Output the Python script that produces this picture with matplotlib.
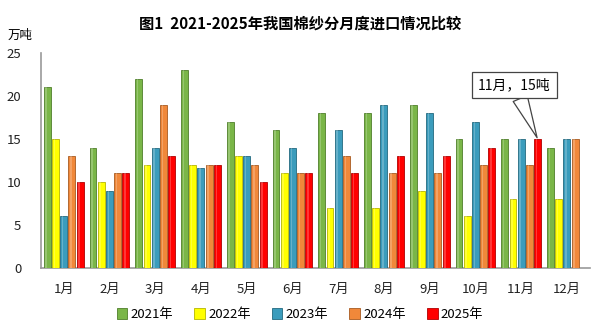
import numpy as np
import matplotlib.pyplot as plt

plt.rcParams['font.family'] = ['Noto Sans CJK SC', 'DejaVu Sans']

months = ['1月', '2月', '3月', '4月', '5月', '6月', '7月', '8月', '9月', '10月', '11月', '12月']
years = ['2021年', '2022年', '2023年', '2024年', '2025年']
y2021 = [21, 14, 22, 23, 17, 16, 18, 18, 19, 15, 15, 14]
y2022 = [15, 10, 12, 12, 13, 11, 7, 7, 9, 6, 8, 8]
y2023 = [6, 9, 14, 11.6, 13, 14, 16, 19, 18, 17, 15, 15]
y2024 = [13, 11, 19, 12, 12, 11, 13, 11, 11, 12, 12, 15]
y2025 = [10, 11, 13, 12, 10, 11, 11, 13, 13, 14, 15, np.nan]

colors = ['#7ab648', '#ffff00', '#3b9cbc', '#f0883a', '#ff0000']
edges = ['#4f7f2a', '#b5b500', '#23697f', '#a85a20', '#b00000']

fig = plt.figure(figsize=(6, 3.33), dpi=100)
ax = fig.add_axes([0.068, 0.195, 0.915, 0.646])

x = np.arange(len(months))
step = 0.18
w = 0.15
series = [y2021, y2022, y2023, y2024, y2025]
for k, vals in enumerate(series):
    pos = x + (k - 2) * step
    ax.bar(pos, vals, w, color=colors[k], edgecolor=edges[k], linewidth=0.6,
           label=years[k], zorder=3)
    # light stripe down each bar for a rounded look
    ax.bar(pos - w * 0.15, vals, w * 0.22, color='white', alpha=0.22,
           linewidth=0, zorder=4)

ax.set_xlim(-0.5, 11.5)
ax.set_ylim(0, 25)
ax.set_yticks(range(0, 26, 5))
ax.set_xticks(x)
ax.set_xticklabels(months)
ax.tick_params(axis='both', length=0, labelsize=9.5, colors='#222222')
ax.tick_params(axis='x', pad=11)
ax.tick_params(axis='y', pad=14)
for s in ['top', 'right']:
    ax.spines[s].set_visible(False)
for s in ['left', 'bottom']:
    ax.spines[s].set_color('#999999')
    ax.spines[s].set_linewidth(1.2)

fig.text(0.5, 0.93, '图1  2021-2025年我国棉纱分月度进口情况比较',
         ha='center', va='center', fontsize=11, fontweight='bold')
fig.text(0.012, 0.895, '万吨', ha='left', va='center', fontsize=9)

# callout on the November 2025 bar
px = x[10] + 2 * step
ax.annotate('11月，15吨', xy=(px, y2025[10]), xytext=(9.85, 21.3),
            ha='center', va='center', fontsize=10,
            bbox=dict(boxstyle='square,pad=0.45', fc='white', ec='#444444', lw=0.9),
            arrowprops=dict(arrowstyle='wedge,tail_width=1.1', fc='white',
                            ec='#444444', lw=0.9, shrinkA=0, shrinkB=1),
            zorder=6)

fig.legend(loc='lower center', bbox_to_anchor=(0.5, 0.0), ncol=5,
           frameon=False, fontsize=9.5, handlelength=0.8, handleheight=0.8,
           handletextpad=0.25, columnspacing=1.6)

fig.savefig('out.png', dpi=100, facecolor='white')
